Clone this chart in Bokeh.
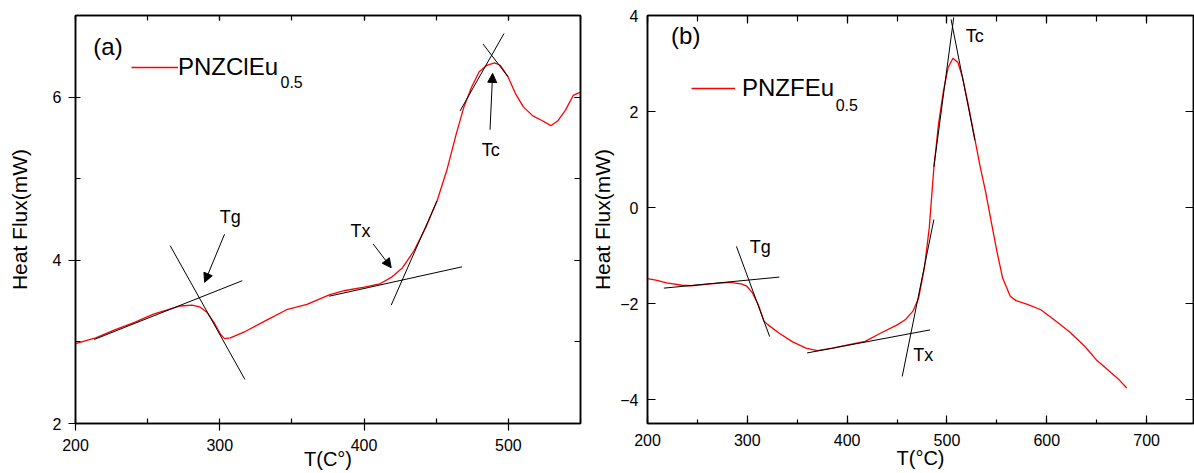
from bokeh.plotting import figure
from bokeh.layouts import row
from bokeh.models import (Range1d, LinearAxis, SingleIntervalTicker, CustomJSTickFormatter,
                          Label, Arrow, NormalHead, Legend, LegendItem, ColumnDataSource)
from bokeh.embed import file_html
from bokeh.resources import INLINE

FONT = "Liberation Sans"
RED = "#ff0000"

# ---------------- Panel (a): PNZClEu0.5 ----------------
a_T = [200, 214, 227.6, 240.9, 254, 264.8, 272.7, 280.7, 286, 291.3, 296.6, 300.6, 303.3,
       307.3, 317.9, 333.8, 347, 360.4, 376.3, 386.9, 400.2, 410.8, 418.8, 426.7, 434.7,
       442.7, 450.6, 457.3, 463.9, 469.2, 474.5, 479.8, 485.1, 490.4, 494.4, 499.7, 505,
       510.4, 517, 523.6, 529.5, 534.3, 539.6, 544.9, 550]
a_HF = [2.98, 3.05, 3.15, 3.24, 3.34, 3.40, 3.44, 3.45, 3.43, 3.36, 3.22, 3.09, 3.04,
        3.05, 3.13, 3.28, 3.40, 3.46, 3.58, 3.63, 3.67, 3.71, 3.79, 3.91, 4.12,
        4.40, 4.73, 5.10, 5.55, 5.88, 6.12, 6.31, 6.39, 6.42, 6.39, 6.25, 6.04,
        5.88, 5.77, 5.71, 5.65, 5.71, 5.84, 6.02, 6.06]
a_tan_x0 = [213.0, 265.6, 375.8, 418.8, 466.5, 482.5]
a_tan_y0 = [3.03, 4.18, 3.56, 3.45, 5.83, 6.65]
a_tan_x1 = [315.6, 317.4, 467.9, 450.6, 497.0, 499.7]
a_tan_y1 = [3.75, 2.54, 3.92, 4.73, 6.78, 6.25]
a_marks = ["Tg", "Tx", "Tc"]
a_mark_x = [307.3, 397.5, 487.8]
a_mark_y = [4.53, 4.36, 5.35]
a_arr_x0 = [303.3, 406.3, 487.3]
a_arr_y0 = [4.32, 4.20, 5.60]
a_arr_x1 = [289.5, 418.8, 489.1]
a_arr_y1 = [3.73, 3.91, 6.29]

# ---------------- Panel (b): PNZFEu0.5 ----------------
b_T = [200, 209.6, 219.1, 234.4, 244, 263.1, 282.2, 293.7, 299.5, 305.2, 310.9, 316.7,
       320.5, 332, 345.4, 358.8, 370.2, 385.5, 400.8, 418.1, 431.4, 450.6, 458.2, 465.9,
       471.6, 477.4, 482.3, 486.9, 491.5, 496.5, 501.1, 506, 511, 515.6, 521.3, 527.1,
       532.8, 538.6, 544.3, 550, 555.8, 563.4, 569.2, 580.6, 594, 607.4, 622.7, 638,
       649.5, 664.8, 672.5, 680.1]
b_HF = [-1.48, -1.52, -1.57, -1.62, -1.63, -1.59, -1.56, -1.59, -1.64, -1.78, -2.02, -2.37,
        -2.44, -2.62, -2.80, -2.93, -2.98, -2.93, -2.86, -2.79, -2.64, -2.44, -2.34, -2.16,
        -1.89, -1.26, -0.42, 0.83, 1.73, 2.43, 2.91, 3.11, 3.02, 2.71, 2.15, 1.52,
        0.90, 0.34, -0.29, -0.91, -1.47, -1.85, -1.94, -2.02, -2.13, -2.34, -2.59, -2.89,
        -3.17, -3.45, -3.59, -3.76]
b_tan_x0 = [216.4, 289.1, 359.9, 455.2, 486.9, 504.1]
b_tan_y0 = [-1.68, -0.81, -3.03, -3.52, 0.85, 3.92]
b_tan_x1 = [332.0, 322.4, 483.1, 486.9, 506.8, 528.0]
b_tan_y1 = [-1.45, -2.69, -2.55, -0.25, 3.96, 1.40]
b_marks = ["Tg", "Tx", "Tc"]
b_mark_x = [312.9, 476.2, 527.8]
b_mark_y = [-0.83, -3.08, 3.58]


def style_axis(ax, major_in, major_out, minor_in, minor_out, labels=True, standoff=8):
    ax.axis_line_color = "black"
    ax.axis_line_width = 1.5
    ax.major_tick_line_color = "black"
    ax.major_tick_line_width = 1.2
    ax.minor_tick_line_color = "black"
    ax.minor_tick_line_width = 1.2
    ax.major_tick_in = major_in
    ax.major_tick_out = major_out
    ax.minor_tick_in = minor_in
    ax.minor_tick_out = minor_out
    ax.major_label_text_font = FONT
    ax.major_label_text_font_size = "16px"
    ax.major_label_text_color = "black"
    ax.major_label_standoff = standoff
    ax.axis_label_text_font = FONT
    ax.axis_label_text_font_style = "normal"
    ax.axis_label_text_color = "black"
    if not labels:
        ax.formatter = CustomJSTickFormatter(code="return ''")
        ax.major_label_standoff = 0


def panel(width, xr, yr, bl, br, xint, yint):
    p = figure(width=width, height=473, x_range=Range1d(*xr), y_range=Range1d(*yr),
               output_backend="svg", toolbar_location=None,
               min_border_left=bl, min_border_right=br, min_border_top=15, min_border_bottom=50)
    p.xgrid.visible = False
    p.ygrid.visible = False
    p.outline_line_color = "black"
    p.outline_line_width = 1.5
    bottom = p.below[0]
    left = p.left[0]
    bottom.ticker = SingleIntervalTicker(interval=xint, num_minor_ticks=2)
    left.ticker = SingleIntervalTicker(interval=yint, num_minor_ticks=2)
    top = LinearAxis(ticker=SingleIntervalTicker(interval=xint, num_minor_ticks=2))
    right = LinearAxis(ticker=SingleIntervalTicker(interval=yint, num_minor_ticks=2))
    p.add_layout(top, "above")
    p.add_layout(right, "right")
    return p, bottom, left, top, right


def txt(p, x, y, s, size, align="center", baseline="middle"):
    p.add_layout(Label(x=x, y=y, text=s, text_font=FONT, text_font_size=size,
                       text_color="black", text_align=align, text_baseline=baseline))


def legend(p, r, label, loc, gw, standoff):
    leg = Legend(items=[LegendItem(label=label, renderers=[r])], location=loc)
    leg.border_line_color = None
    leg.background_fill_alpha = 0
    leg.padding = 0
    leg.margin = 0
    leg.spacing = 0
    leg.glyph_width = gw
    leg.glyph_height = 20
    leg.label_standoff = standoff
    leg.label_text_font = FONT
    leg.label_text_font_size = "24px"
    leg.label_text_color = "black"
    p.add_layout(leg)


# ---- build panel (a)
pa, ba, la, ta, ra = panel(588, (200, 550), (2, 7), 75, 8, 100, 2)
style_axis(ba, 0, 7, 5, 0, standoff=8)
style_axis(la, 0, 7, 5, 0, standoff=7)
style_axis(ta, 5, 0, 5, 0, labels=False)
style_axis(ra, 6, 0, 6, 0, labels=False)
ba.axis_label = "T(C°)"
ba.axis_label_text_font_size = "20px"
ba.axis_label_standoff = -6
la.axis_label = "Heat Flux(mW)"
la.axis_label_text_font_size = "21px"
la.axis_label_standoff = 19
a_line = pa.line(a_T, a_HF, line_color=RED, line_width=1.3)
pa.segment(x0=a_tan_x0, y0=a_tan_y0, x1=a_tan_x1, y1=a_tan_y1, line_color="black", line_width=1)
pa.add_layout(Arrow(end=NormalHead(size=9, fill_color="black", line_color="black"),
                    x_start="x0", y_start="y0", x_end="x1", y_end="y1",
                    line_color="black", line_width=1,
                    source=ColumnDataSource(dict(x0=a_arr_x0, y0=a_arr_y0, x1=a_arr_x1, y1=a_arr_y1))))
for s, x, y in zip(a_marks, a_mark_x, a_mark_y):
    txt(pa, x, y, s, "18px")
txt(pa, 222.5, 6.62, "(a)", "24px")
legend(pa, a_line, "PNZClEu", (56, 342), 47, 0)
txt(pa, 342.1, 6.19, "0.5", "16px", align="left", baseline="alphabetic")

# ---- build panel (b)
pb, bb, lb, tb, rb = panel(606, (200, 747), (-4.5, 4), 58, 1, 100, 2)
style_axis(bb, 8, 0, 4, 0, standoff=10)
style_axis(lb, 8, 0, 0, 0, standoff=9)
style_axis(tb, 8, 0, 6, 0, labels=False)
style_axis(rb, 8, 0, 0, 0, labels=False)
bb.axis_label = "T(°C)"
bb.axis_label_text_font_size = "20px"
bb.axis_label_standoff = -2
lb.axis_label = "Heat Flux(mW)"
lb.axis_label_text_font_size = "21px"
lb.axis_label_standoff = 3
b_line = pb.line(b_T, b_HF, line_color=RED, line_width=1.3)
pb.segment(x0=b_tan_x0, y0=b_tan_y0, x1=b_tan_x1, y1=b_tan_y1, line_color="black", line_width=1)
for s, x, y in zip(b_marks, b_mark_x, b_mark_y):
    txt(pb, x, y, s, "18px")
txt(pb, 238.3, 3.58, "(b)", "24px")
legend(pb, b_line, "PNZFEu", (44, 321), 44, 7)
txt(pb, 388.5, 2.13, "0.5", "16px", align="left", baseline="alphabetic")

layout = row(pa, pb)
open("out.html", "w").write(file_html(layout, INLINE))
